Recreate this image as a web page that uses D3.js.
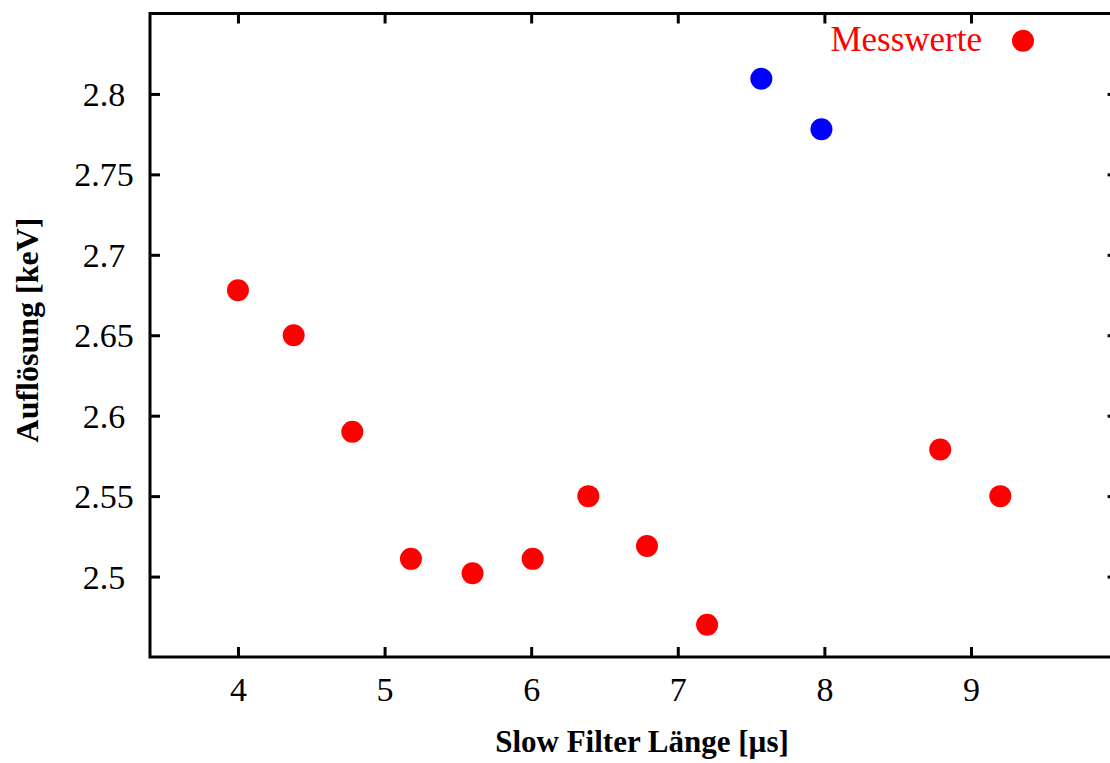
<!DOCTYPE html>
<html>
<head>
<meta charset="utf-8">
<script src="https://cdn.jsdelivr.net/npm/d3@7"></script>
<style>
  body { margin: 0; background: #fff; }
  svg { display: block; font-family: "Liberation Serif", "Times New Roman", serif; }
</style>
</head>
<body>
<div id="chart"></div>
<script>
// measured values (x in µs, y in keV)
var redX = [4.0, 4.38, 4.78, 5.18, 5.60, 6.01, 6.39, 6.79, 7.20, 8.79, 9.20];
var redY = [2.678, 2.650, 2.590, 2.511, 2.502, 2.511, 2.550, 2.519, 2.470, 2.579, 2.550];
var blueX = [7.57, 7.98];
var blueY = [2.8095, 2.778];
var xTicks = [4, 5, 6, 7, 8, 9];
var yTicks = [2.5, 2.55, 2.6, 2.65, 2.7, 2.75, 2.8];

var width = 1110, height = 763,
	plot = {left: 150, right: 1117.6, top: 13.5, bottom: 657};

var svg = d3.select("#chart").append("svg")
	.attr("width", width)
	.attr("height", height);

var x = d3.scaleLinear().domain([3.4, 10]).range([plot.left, plot.right]),
	y = d3.scaleLinear().domain([2.45, 2.85]).range([plot.bottom, plot.top]);

// inward ticks on all four sides
function styleAxis(g){
	g.select(".domain").remove();
	g.selectAll(".tick line").attr("stroke", "#000").attr("stroke-width", 3);
}

svg.append("g")
	.attr("transform", "translate(0," + plot.bottom + ")")
	.call(d3.axisBottom(x).tickValues(xTicks).tickSizeInner(-10).tickSizeOuter(0).tickFormat(d3.format("d")))
	.call(styleAxis)
	.selectAll("text")
		.attr("y", 44).attr("dy", 0)
		.style("font-size", "34px").style("font-family", "Liberation Serif").attr("fill", "#000");

svg.append("g")
	.attr("transform", "translate(0," + plot.top + ")")
	.call(d3.axisTop(x).tickValues(xTicks).tickSizeInner(-10).tickSizeOuter(0).tickFormat(""))
	.call(styleAxis);

svg.append("g")
	.attr("transform", "translate(" + plot.left + ",0)")
	.call(d3.axisLeft(y).tickValues(yTicks).tickSizeInner(-10).tickSizeOuter(0).tickFormat(function(d){ return String(d); }))
	.call(styleAxis)
	.selectAll("text")
		.attr("x", -46).attr("dy", "0.34em")
		.attr("text-anchor", "middle")
		.style("font-size", "34px").style("font-family", "Liberation Serif").attr("fill", "#000");

svg.append("g")
	.attr("transform", "translate(" + plot.right + ",0)")
	.call(d3.axisRight(y).tickValues(yTicks).tickSizeInner(-10).tickSizeOuter(0).tickFormat(""))
	.call(styleAxis);

// frame
svg.append("rect")
	.attr("x", plot.left).attr("y", plot.top)
	.attr("width", plot.right - plot.left).attr("height", plot.bottom - plot.top)
	.attr("fill", "none").attr("stroke", "#000").attr("stroke-width", 3);

// points
svg.append("g").selectAll("circle.red")
	.data(d3.zip(redX, redY))
	.enter().append("circle")
		.attr("class", "red")
		.attr("cx", function(d){ return x(d[0]); })
		.attr("cy", function(d){ return y(d[1]); })
		.attr("r", 11)
		.attr("fill", "#ff0000");

svg.append("g").selectAll("circle.blue")
	.data(d3.zip(blueX, blueY))
	.enter().append("circle")
		.attr("class", "blue")
		.attr("cx", function(d){ return x(d[0]); })
		.attr("cy", function(d){ return y(d[1]); })
		.attr("r", 11)
		.attr("fill", "#0000ff");

// legend
svg.append("text")
	.attr("x", 982).attr("y", 51)
	.attr("text-anchor", "end")
	.style("font-size", "35px")
	.attr("fill", "#ff0000")
	.text("Messwerte");
svg.append("circle")
	.attr("cx", 1023).attr("cy", 40.7).attr("r", 11)
	.attr("fill", "#ff0000");

// axis titles
svg.append("text")
	.attr("x", 642).attr("y", 752)
	.attr("text-anchor", "middle")
	.style("font-size", "31px").style("font-weight", "bold")
	.text("Slow Filter Länge [µs]");

svg.append("text")
	.attr("transform", "translate(38,330) rotate(-90)")
	.attr("text-anchor", "middle")
	.style("font-size", "32px").style("font-weight", "bold")
	.text("Auflösung [keV]");
</script>
</body>
</html>
